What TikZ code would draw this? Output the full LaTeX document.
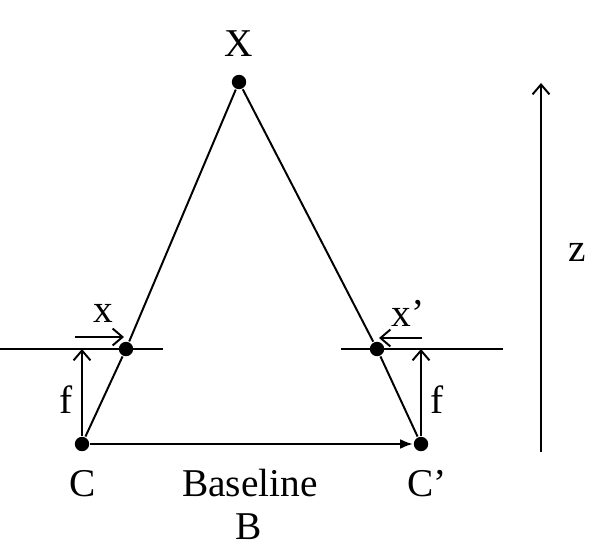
\documentclass[tikz,border=0pt]{standalone}
\usepackage{fontspec}
\setmainfont{Liberation Serif}
\usetikzlibrary{arrows.meta}
\begin{document}
\begin{tikzpicture}[x=0.025cm, y=-0.025cm, line width=1.4pt,
    pt/.style={circle, fill, inner sep=0pt, minimum size=0.36cm},
    lbl/.style={inner sep=0pt, font=\fontsize{28}{34}\selectfont},
    open/.style={-{Straight Barb[length=7pt,width=12pt]}},
    base/.style={-{Latex[length=9pt,width=7pt]}}]
    \useasboundingbox (0,0) rectangle (605,558);

    % points
    \node[pt] (X) at (239,82) {};
    \node[pt] (C) at (82,444) {};
    \node[pt] (Cp) at (421,444) {};
    \node[pt] (xl) at (126,349) {};
    \node[pt] (xr) at (377,349) {};

    % image planes
    \coordinate (pl1) at (0,349);
    \coordinate (pl2) at (163,349);
    \coordinate (pr1) at (341,349);
    \coordinate (pr2) at (503,349);
    \draw (pl1) -- (pl2);
    \draw (pr1) -- (pr2);

    % rays
    \draw (X) -- (xl) -- (C);
    \draw (X) -- (xr) -- (Cp);

    % focal lengths
    \coordinate (fl) at (82,349);
    \coordinate (fr) at (421,349);
    \draw[open] (C) -- (fl);
    \draw[open] (Cp) -- (fr);

    % image coordinates
    \coordinate (xa1) at (75,337);
    \coordinate (xa2) at (124,337);
    \coordinate (xb1) at (422,338);
    \coordinate (xb2) at (379,338);
    \draw[open] (xa1) -- (xa2);
    \draw[open] (xb1) -- (xb2);

    % baseline
    \draw[base] (C) -- (Cp);

    % depth
    \coordinate (z1) at (541,452);
    \coordinate (z2) at (541,83);
    \draw[open] (z1) -- (z2);

    % labels
    \node[lbl] (tX) at (239,44) {X};
    \node[lbl] (tC) at (83,484) {C};
    \node[lbl] (tCp) at (427,484) {C’};
    \node[lbl] (tbase) at (250,483) {Baseline};
    \node[lbl] (tB) at (249,527) {B};
    \node[lbl] (tfl) at (66,400) {f};
    \node[lbl] (tfr) at (437,400) {f};
    \node[lbl] (tx) at (103,313) {x};
    \node[lbl] (txp) at (408,313) {x’};
    \node[lbl] (tz) at (577,252) {z};
\end{tikzpicture}
\end{document}
